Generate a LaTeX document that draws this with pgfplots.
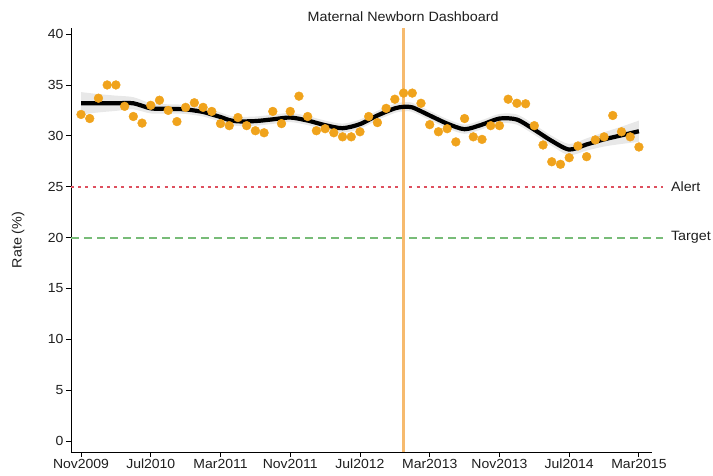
\documentclass[border=0pt]{standalone}
\usepackage{pgfplots}
\pgfplotsset{compat=1.18}
\usepackage{pgfplotstable}
\usepgfplotslibrary{fillbetween}
\usepackage{fontspec}
\setmainfont{Liberation Sans}[FakeStretch=1.06]
\definecolor{ptorange}{RGB}{240,163,28}
\definecolor{vline}{RGB}{246,186,110}
\definecolor{alertred}{RGB}{222,80,95}
\definecolor{targetgreen}{RGB}{120,188,120}
\definecolor{bandgray}{RGB}{232,232,232}
\definecolor{txt}{RGB}{30,30,30}

\pgfplotstableread{
x y
0 32.1
1 31.7
2 33.7
3 35.0
4 35.0
5 32.9
6 31.9
7 31.25
8 33.0
9 33.5
10 32.5
11 31.4
12 32.8
13 33.25
14 32.8
15 32.4
16 31.2
17 31.0
18 31.8
19 31.0
20 30.5
21 30.3
22 32.4
23 31.2
24 32.4
25 33.9
26 31.9
27 30.5
28 30.7
29 30.3
30 29.9
31 29.9
32 30.4
33 31.9
34 31.3
35 32.7
36 33.6
37 34.2
38 34.2
39 33.2
40 31.1
41 30.4
42 30.7
43 29.4
44 31.7
45 29.9
46 29.65
47 31.0
48 31.0
49 33.6
50 33.2
51 33.15
52 31.0
53 29.1
54 27.45
55 27.2
56 27.85
57 29.0
58 27.95
59 29.6
60 29.9
61 32.0
62 30.4
63 29.9
64 28.9
}\ptsdata

\pgfplotstableread{
x y w
0 33.2 1.1
2 33.2 0.9
4 33.2 0.75
6 33.2 0.6
8 32.7 0.5
10 32.65 0.45
12 32.6 0.45
14 32.35 0.45
15 32.1 0.45
16 31.85 0.45
17 31.55 0.45
18 31.42 0.45
20 31.45 0.45
22 31.62 0.45
24 31.8 0.45
26 31.5 0.45
28 31.05 0.45
30 30.75 0.45
32 31.15 0.45
34 32.0 0.45
36 32.7 0.45
37 32.85 0.45
38 32.8 0.45
40 32.0 0.45
42 31.2 0.45
44 30.65 0.45
46 31.1 0.45
48 31.7 0.45
50 31.6 0.5
52 30.6 0.5
54 29.5 0.5
56 28.65 0.55
58 29.15 0.6
60 29.65 0.7
62 30.05 0.85
64 30.45 1.05
}\fitdata

\begin{document}
\begin{tikzpicture}
\begin{axis}[
  at={(0,0)}, anchor=south west,
  scale only axis, width=581pt, height=424pt,
  xmin=-1.15, xmax=65.5, ymin=-1.08, ymax=40.6,
  axis x line*=bottom, axis y line*=left,
  axis line style={black, line width=0.9pt, -},
  tick align=outside, major tick length=5pt,
  tick style={black, line width=0.9pt},
  xtick={0,8,16,24,32,40,48,56,64},
  xticklabels={Nov2009,Jul2010,Mar2011,Nov2011,Jul2012,Mar2013,Nov2013,Jul2014,Mar2015},
  ytick={0,5,...,40},
  /pgf/number format/assume math mode=true,
  tick label style={font=\fontsize{13.2}{15}\selectfont, text=txt},
  yticklabel style={xshift=1pt},
  xticklabel style={inner sep=1.5pt, yshift=-0.5pt},
  ylabel={Rate (\%)},
  ylabel style={at={(axis description cs:-0.0912,0.5)}, anchor=center, rotate=0, font=\fontsize{13.5}{15}\selectfont, text=txt},
  clip=false,
]
\addplot[name path=hi, draw=none, smooth] table[x=x, y expr=\thisrow{y}+\thisrow{w}] {\fitdata};
\addplot[name path=lo, draw=none, smooth] table[x=x, y expr=\thisrow{y}-\thisrow{w}] {\fitdata};
\addplot[bandgray] fill between[of=hi and lo];
\addplot[alertred, line width=1.9pt, dash pattern=on 3pt off 4.2pt] coordinates {(-1.15,25) (66.74,25)};
\addplot[targetgreen, line width=2.1pt, dash pattern=on 8pt off 5pt] coordinates {(-1.15,19.98) (66.74,19.98)};
\addplot[color=ptorange, only marks, mark=*, mark size=4.4pt, mark options={draw=none, fill=ptorange}] table[x=x,y=y] {\ptsdata};
\addplot[vline, line width=2.8pt] coordinates {(36.95,-1.08) (36.95,40.6)};
\addplot[black, line width=4.2pt, smooth, tension=0.45] table[x=x,y=y] {\fitdata};
\node[anchor=west, inner sep=0pt, text=txt, font=\fontsize{13.5}{15}\selectfont] at (axis cs:67.66,25) {Alert};
\node[anchor=west, inner sep=0pt, text=txt, font=\fontsize{13.5}{15}\selectfont] at (axis cs:67.66,20) {Target};
\node[anchor=center, text=txt, font=\fontsize{13.5}{15}\selectfont] at (axis cs:36.95,40.6) [yshift=11pt] {Maternal Newborn Dashboard};
\end{axis}
\path (-71pt,-24pt) rectangle (642pt,452pt);
\end{tikzpicture}
\end{document}
